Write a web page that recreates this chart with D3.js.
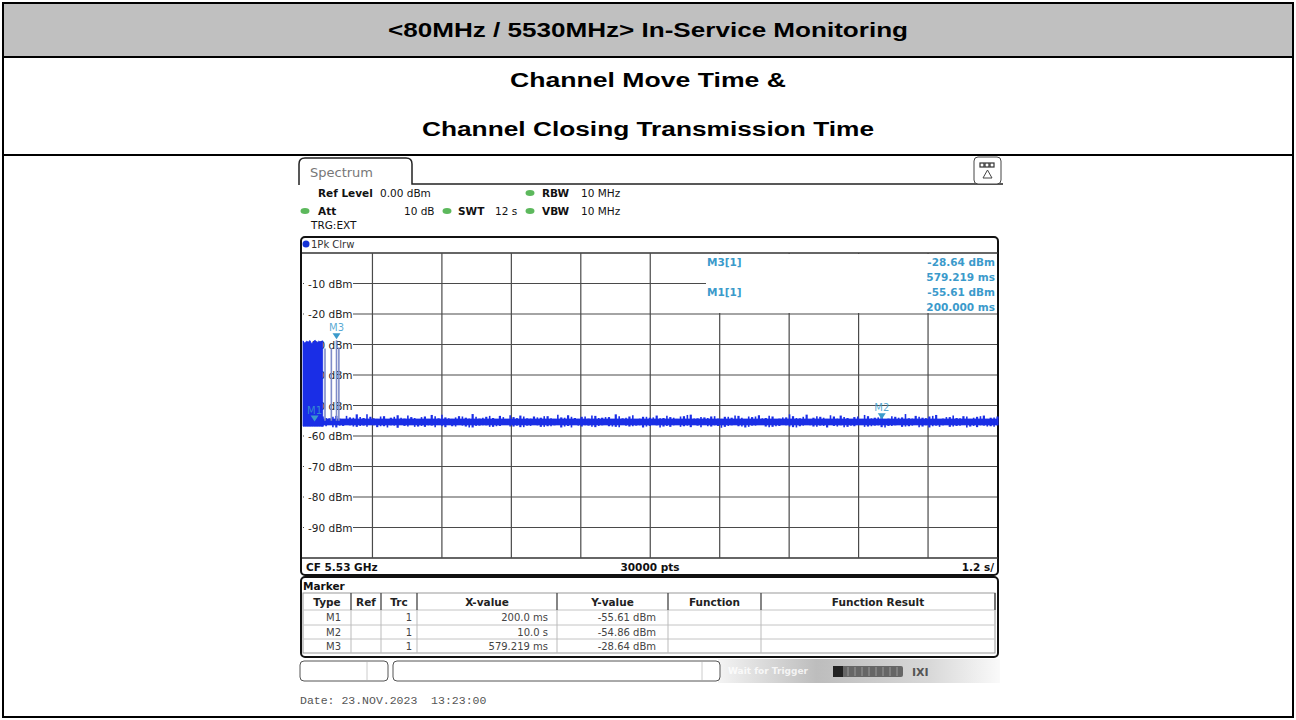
<!DOCTYPE html>
<html>
<head>
<meta charset="utf-8">
<title>In-Service Monitoring</title>
<script src="https://cdn.jsdelivr.net/npm/d3@7"></script>
<style>
  body { margin: 0; background: #fff; }
  svg { display: block; }
</style>
</head>
<body>
<svg width="1296" height="720"></svg>
<script>
// ---- data ----
var titleText = "<80MHz / 5530MHz> In-Service Monitoring";
var subTitles = ["Channel Move Time &", "Channel Closing Transmission Time"];

var yTicks = [-10, -20, -30, -40, -50, -60, -70, -80, -90];
var xDivs = [1.2, 2.4, 3.6, 4.8, 6.0, 7.2, 8.4, 9.6, 10.8];

// signal before the channel move (0 .. 0.34 s), peak level per slice
var blockTimes = [0, 0.03, 0.06, 0.09, 0.12, 0.15, 0.18, 0.21, 0.24, 0.27, 0.30, 0.34];
var blockTop = [-28.8, -29.6, -28.9, -29.2, -28.7, -29.8, -29.0, -28.6, -29.4, -28.9, -29.1, -28.8];

// short transmissions after the move
var spikeTimes = [0.38, 0.49, 0.579, 0.62];
var spikeLevels = [-31.3, -31.2, -28.64, -31.0];

// noise floor: solid core and the peaks / dips around it (0.34 s .. 12 s)
var noiseCore = [-54.3, -56.5];
var noiseTop = [
  -53.6,-54.2,-53.4,-54.5,-53.9,-52.9,-54.1,-53.7,-54.4,-53.5,
  -54.0,-53.2,-54.3,-53.8,-54.6,-53.6,-53.1,-54.2,-53.9,-54.4,
  -53.5,-54.0,-52.8,-54.3,-53.7,-54.1,-53.4,-54.5,-53.8,-53.3,
  -54.2,-53.6,-54.0,-53.5,-54.4,-53.9,-53.2,-54.1,-53.7,-54.3,
  -53.4,-54.0,-53.8,-52.9,-54.2,-53.6,-54.5,-53.7,-54.0,-53.3,
  -54.1,-53.8,-54.4,-53.5,-53.0,-54.2,-53.9,-53.6,-54.3,-53.7,
  -54.0,-53.4,-54.5,-53.8,-53.2,-54.1,-53.6,-54.3,-53.9,-53.5,
  -54.2,-53.0,-54.0,-53.7,-54.4,-53.6,-53.3,-54.1,-53.8,-54.5,
  -53.5,-54.0,-53.2,-54.3,-53.7,-53.9,-54.2,-53.4,-54.0,-53.6,
  -53.1,-54.3,-53.8,-54.1,-53.5,-54.4,-53.7,-53.3,-54.0,-53.6
];
var noiseBottom = [
  -56.9,-56.4,-57.2,-56.7,-56.5,-57.0,-56.6,-56.3,-57.1,-56.8,
  -56.5,-57.3,-56.7,-56.4,-56.9,-57.0,-56.6,-56.2,-57.1,-56.8,
  -56.4,-56.9,-57.2,-56.6,-56.5,-57.0,-56.7,-56.3,-56.9,-57.1,
  -56.6,-56.4,-57.0,-56.8,-56.5,-57.2,-56.7,-56.4,-56.9,-56.6,
  -57.1,-56.5,-56.8,-57.0,-56.3,-56.9,-56.6,-57.2,-56.7,-56.5,
  -56.9,-57.0,-56.4,-56.8,-57.1,-56.6,-56.3,-56.9,-56.7,-57.0,
  -56.5,-56.8,-57.2,-56.6,-56.4,-56.9,-57.0,-56.7,-56.5,-57.1,
  -56.8,-56.4,-56.9,-56.6,-57.2,-56.7,-56.5,-57.0,-56.8,-56.3,
  -56.9,-56.6,-57.1,-56.7,-56.5,-57.0,-56.8,-56.4,-56.9,-57.2,
  -56.6,-56.5,-57.0,-56.7,-56.4,-56.9,-57.1,-56.6,-56.8,-56.5
];

// markers
var markerNames = ["M1", "M2", "M3"];
var markerTimes = [0.2, 10.0, 0.579219];
var markerLevels = [-55.61, -54.86, -28.64];
var markerXText = ["200.0 ms", "10.0 s", "579.219 ms"];
var markerYText = ["-55.61 dBm", "-54.86 dBm", "-28.64 dBm"];

var tableHeads = ["Type", "Ref", "Trc", "X-value", "Y-value", "Function", "Function Result"];
var tableCols = [303, 351, 381, 417, 557, 668, 761, 995];

var svg = d3.select("svg");
var sans = "'DejaVu Sans', Verdana, sans-serif";
var arial = "'Liberation Sans', Arial, sans-serif";
var blue = "#1a2ee6";
var mkColor = "#3b9acb";

// ---- outer report table ----
svg.append("rect").attr("x", 3).attr("y", 3).attr("width", 1290).attr("height", 54)
  .attr("fill", "#c0c0c0");
svg.append("rect").attr("x", 3).attr("y", 3).attr("width", 1290).attr("height", 714)
  .attr("fill", "none").attr("stroke", "#000").attr("stroke-width", 2);
[57, 155].forEach(function(y){
  svg.append("line").attr("x1", 3).attr("x2", 1293).attr("y1", y).attr("y2", y)
    .attr("stroke", "#000").attr("stroke-width", 2);
});
// the screenshot is stretched sideways, so the headings are wider than the font
svg.append("text").attr("x", 648).attr("y", 37).attr("text-anchor", "middle")
  .attr("font-family", arial).attr("font-weight", "bold").attr("font-size", 20)
  .attr("textLength", 520).attr("lengthAdjust", "spacingAndGlyphs")
  .text(titleText);
var subW = [276, 452];
svg.selectAll(".sub").data(subTitles).enter().append("text")
  .attr("x", 648).attr("y", function(d, i){ return 87 + i * 49; })
  .attr("text-anchor", "middle").attr("font-family", arial)
  .attr("font-weight", "bold").attr("font-size", 20)
  .attr("textLength", function(d, i){ return subW[i]; }).attr("lengthAdjust", "spacingAndGlyphs")
  .text(function(d){ return d; });

// ---- analyzer screen ----
var scr = svg.append("g").attr("font-family", sans);

scr.append("path")
  .attr("d", "M299,185 V164 Q299,158 305,158 H406 Q412,158 412,164 V184 H1003")
  .attr("fill", "none").attr("stroke", "#222").attr("stroke-width", 1.5);
scr.append("text").attr("x", 310).attr("y", 177).attr("font-size", 13)
  .attr("fill", "#777").text("Spectrum");

// small icon top right
scr.append("rect").attr("x", 974).attr("y", 157).attr("width", 27).attr("height", 27)
  .attr("rx", 4).attr("fill", "#fff").attr("stroke", "#444").attr("stroke-width", 1);
[980, 985, 990].forEach(function(bx){
  scr.append("rect").attr("x", bx).attr("y", 163).attr("width", 4).attr("height", 4)
    .attr("fill", "none").attr("stroke", "#333").attr("stroke-width", 1.2);
});
scr.append("path").attr("d", "M987.5,170 L983,178 H992 Z").attr("fill", "none")
  .attr("stroke", "#444");

// setting lines
function setText(x, y, t, bold){
  scr.append("text").attr("x", x).attr("y", y).attr("font-size", 10.5)
    .attr("font-weight", bold ? "bold" : "normal").attr("fill", "#111").text(t);
}
function dot(x, y){
  scr.append("ellipse").attr("cx", x).attr("cy", y).attr("rx", 4.5).attr("ry", 3)
    .attr("fill", "#5cb85c");
}
setText(318, 197, "Ref Level", true); setText(380, 197, "0.00 dBm");
dot(530, 193); setText(542, 197, "RBW", true); setText(581, 197, "10 MHz");
dot(305, 211); setText(318, 215, "Att", true); setText(404, 215, "10 dB");
dot(447, 211); setText(458, 215, "SWT", true); setText(495, 215, "12 s");
dot(530, 211); setText(542, 215, "VBW", true); setText(581, 215, "10 MHz");
setText(311, 229, "TRG:EXT");

// plot frame
scr.append("rect").attr("x", 301).attr("y", 237).attr("width", 697).attr("height", 338)
  .attr("rx", 4).attr("fill", "#fff").attr("stroke", "#111").attr("stroke-width", 2);
scr.append("circle").attr("cx", 306).attr("cy", 244).attr("r", 3.5).attr("fill", "#1533d6");
scr.append("text").attr("x", 311).attr("y", 248).attr("font-size", 10).attr("fill", "#333")
  .text("1Pk Clrw");

var x = d3.scaleLinear().domain([0, 12]).range([303, 997.5]);
var y = d3.scaleLinear().domain([0, -100]).range([253, 558]);

var grid = scr.append("g");
grid.append("line").attr("x1", 302).attr("x2", 998).attr("y1", y(0)).attr("y2", y(0))
  .attr("stroke", "#333").attr("stroke-width", 1.5);
grid.append("line").attr("x1", 302).attr("x2", 998).attr("y1", y(-100)).attr("y2", y(-100))
  .attr("stroke", "#333").attr("stroke-width", 1.5);
grid.selectAll(".v").data(xDivs).enter().append("line")
  .attr("x1", function(d){ return x(d); }).attr("x2", function(d){ return x(d); })
  .attr("y1", y(0)).attr("y2", y(-100)).attr("stroke", "#4a4a4a").attr("stroke-width", 1.2);
grid.selectAll(".h").data(yTicks).enter().append("line")
  .attr("x1", 303).attr("x2", 997)
  .attr("y1", function(d){ return y(d); }).attr("y2", function(d){ return y(d); })
  .attr("stroke", "#4a4a4a").attr("stroke-width", 1.2);

// marker info box hides part of the grid
scr.append("rect").attr("x", 652).attr("y", y(0) + 1).attr("width", 345)
  .attr("height", y(-20) - y(0) - 2).attr("fill", "#fff");
scr.append("line").attr("x1", 652).attr("x2", 706).attr("y1", y(-10)).attr("y2", y(-10))
  .attr("stroke", "#4a4a4a").attr("stroke-width", 1.2);

// y labels with white background
var yl = scr.selectAll(".yl").data(yTicks).enter().append("g");
yl.append("rect").attr("x", 304).attr("y", function(d){ return y(d) - 7; })
  .attr("width", 49).attr("height", 14).attr("fill", "#fff");
yl.append("text").attr("x", 308).attr("y", function(d){ return y(d) + 4; })
  .attr("font-size", 10.5).attr("fill", "#222").text(function(d){ return d + " dBm"; });

// ---- trace ----
var step = (12 - 0.34) / (noiseTop.length - 1);
var noiseTimes = d3.range(noiseTop.length).map(function(i){ return 0.34 + i * step; });
var blockData = blockTimes.map(function(t, i){ return { t: t, hi: blockTop[i], lo: -56.8 }; });

var area = d3.area().x(function(d){ return x(d.t); })
  .y0(function(d){ return y(d.lo); }).y1(function(d){ return y(d.hi); });

scr.append("rect").attr("x", x(0.3)).attr("y", y(noiseCore[0]))
  .attr("width", x(12) - x(0.3)).attr("height", y(noiseCore[1]) - y(noiseCore[0]))
  .attr("fill", blue);
// peak / dip hairs of the noise floor
scr.selectAll(".hair").data(noiseTimes).enter().append("line")
  .attr("x1", function(d){ return x(d); }).attr("x2", function(d){ return x(d); })
  .attr("y1", function(d, i){ return y(noiseTop[i]); })
  .attr("y2", function(d, i){ return y(noiseBottom[i]); })
  .attr("stroke", blue).attr("stroke-width", 2.2);
scr.selectAll(".hair2").data(noiseTimes.slice(0, -1)).enter().append("line")
  .attr("x1", function(d){ return x(d + step / 2); }).attr("x2", function(d){ return x(d + step / 2); })
  .attr("y1", function(d, i){ return y(noiseTop[(i + 37) % noiseTop.length]); })
  .attr("y2", function(d, i){ return y(noiseBottom[(i + 53) % noiseBottom.length]); })
  .attr("stroke", blue).attr("stroke-width", 1.6);
scr.append("path").datum(blockData).attr("d", area).attr("fill", blue)
  .attr("stroke", blue).attr("stroke-width", 0.8);

scr.selectAll(".spike").data(spikeTimes).enter().append("line")
  .attr("x1", function(d){ return x(d); }).attr("x2", function(d){ return x(d); })
  .attr("y1", y(-55)).attr("y2", function(d, i){ return y(spikeLevels[i]); })
  .attr("stroke", "#7f8cc8").attr("stroke-width", 1.6);

// markers on trace
var mk = scr.selectAll(".mk").data(markerNames).enter().append("g");
mk.append("path").attr("d", function(d, i){
  var mx = x(markerTimes[i]), my = y(markerLevels[i]) - 1;
  return "M" + (mx - 4) + "," + (my - 6) + " H" + (mx + 4) + " L" + mx + "," + my + " Z";
}).attr("fill", mkColor);
mk.append("text").attr("x", function(d, i){ return x(markerTimes[i]); })
  .attr("y", function(d, i){ return y(markerLevels[i]) - 9; })
  .attr("text-anchor", "middle").attr("font-size", 10).attr("fill", mkColor)
  .attr("fill-opacity", 0.85).text(function(d){ return d; });

// marker readout
var ro = scr.append("g").attr("font-size", 10.5).attr("font-weight", "bold").attr("fill", mkColor);
ro.append("text").attr("x", 707).attr("y", 266).text("M3[1]");
ro.append("text").attr("x", 707).attr("y", 296).text("M1[1]");
ro.append("text").attr("x", 995).attr("y", 266).attr("text-anchor", "end").text(markerYText[2]);
ro.append("text").attr("x", 995).attr("y", 281).attr("text-anchor", "end").text("579.219 ms");
ro.append("text").attr("x", 995).attr("y", 296).attr("text-anchor", "end").text(markerYText[0]);
ro.append("text").attr("x", 995).attr("y", 311).attr("text-anchor", "end").text("200.000 ms");

// footer of plot
scr.append("text").attr("x", 306).attr("y", 571).attr("font-size", 10.5).attr("font-weight", "bold")
  .attr("fill", "#111").text("CF 5.53 GHz");
scr.append("text").attr("x", 650).attr("y", 571).attr("text-anchor", "middle").attr("font-size", 10.5)
  .attr("font-weight", "bold").attr("fill", "#111").text("30000 pts");
scr.append("text").attr("x", 994).attr("y", 571).attr("text-anchor", "end").attr("font-size", 10.5)
  .attr("font-weight", "bold").attr("fill", "#111").text("1.2 s/");

// ---- marker table ----
scr.append("rect").attr("x", 301).attr("y", 577).attr("width", 697).attr("height", 80)
  .attr("rx", 4).attr("fill", "#fff").attr("stroke", "#111").attr("stroke-width", 2);
scr.append("text").attr("x", 303).attr("y", 590).attr("font-size", 10.5).attr("font-weight", "bold")
  .attr("fill", "#111").text("Marker");

var rowY = [593, 610, 625, 639, 653];
scr.append("rect").attr("x", 303).attr("y", 593).attr("width", 692).attr("height", 60)
  .attr("fill", "none").attr("stroke", "#999");
rowY.slice(1, 4).forEach(function(yy){
  scr.append("line").attr("x1", 303).attr("x2", 995).attr("y1", yy).attr("y2", yy)
    .attr("stroke", "#c4c4c4");
});
tableCols.slice(1, 7).forEach(function(cx){
  scr.append("line").attr("x1", cx).attr("x2", cx).attr("y1", 593).attr("y2", 610)
    .attr("stroke", "#444").attr("stroke-width", 1.3);
  scr.append("line").attr("x1", cx).attr("x2", cx).attr("y1", 610).attr("y2", 653)
    .attr("stroke", "#bbb");
});
scr.append("line").attr("x1", 995).attr("x2", 995).attr("y1", 593).attr("y2", 610)
  .attr("stroke", "#444").attr("stroke-width", 1.3);
scr.selectAll(".th").data(tableHeads).enter().append("text")
  .attr("x", function(d, i){ return (tableCols[i] + tableCols[i + 1]) / 2; })
  .attr("y", 606).attr("text-anchor", "middle").attr("font-size", 10.5)
  .attr("font-weight", "bold").attr("fill", "#222").text(function(d){ return d; });

var rows = scr.selectAll(".tr").data(markerNames).enter().append("g")
  .attr("font-size", 10).attr("fill", "#444").attr("text-anchor", "end");
rows.append("text").attr("x", 341).attr("y", function(d, i){ return rowY[i + 1] + 11; })
  .text(function(d){ return d; });
rows.append("text").attr("x", 412).attr("y", function(d, i){ return rowY[i + 1] + 11; })
  .text("1");
rows.append("text").attr("x", 548).attr("y", function(d, i){ return rowY[i + 1] + 11; })
  .text(function(d, i){ return markerXText[i]; });
rows.append("text").attr("x", 656).attr("y", function(d, i){ return rowY[i + 1] + 11; })
  .text(function(d, i){ return markerYText[i]; });

// ---- status bar ----
var grad = svg.append("defs").append("linearGradient").attr("id", "sb");
grad.append("stop").attr("offset", "0%").attr("stop-color", "#f4f4f4");
grad.append("stop").attr("offset", "35%").attr("stop-color", "#bdbdbd");
grad.append("stop").attr("offset", "75%").attr("stop-color", "#d8d8d8");
grad.append("stop").attr("offset", "100%").attr("stop-color", "#fafafa");
scr.append("rect").attr("x", 718).attr("y", 659).attr("width", 282).attr("height", 24)
  .attr("fill", "url(#sb)");
scr.append("rect").attr("x", 300).attr("y", 661).attr("width", 88).attr("height", 20)
  .attr("rx", 4).attr("fill", "#fff").attr("stroke", "#555");
scr.append("line").attr("x1", 367).attr("x2", 367).attr("y1", 662).attr("y2", 680).attr("stroke", "#ccc");
scr.append("rect").attr("x", 393).attr("y", 661).attr("width", 327).attr("height", 20)
  .attr("rx", 4).attr("fill", "#fff").attr("stroke", "#555");
scr.append("line").attr("x1", 702).attr("x2", 702).attr("y1", 662).attr("y2", 680).attr("stroke", "#ccc");
scr.append("text").attr("x", 728).attr("y", 674).attr("font-size", 9).attr("font-weight", "bold")
  .attr("fill", "#fff").attr("fill-opacity", 0.8).text("Wait for Trigger");
scr.append("rect").attr("x", 833).attr("y", 666).attr("width", 70).attr("height", 11)
  .attr("rx", 2).attr("fill", "#666");
scr.append("rect").attr("x", 833).attr("y", 666).attr("width", 10).attr("height", 11)
  .attr("fill", "#222");
d3.range(848, 900, 7).forEach(function(bx){
  scr.append("line").attr("x1", bx).attr("x2", bx).attr("y1", 667).attr("y2", 676)
    .attr("stroke", "#999");
});
scr.append("text").attr("x", 912).attr("y", 676).attr("font-size", 11).attr("font-weight", "bold")
  .attr("fill", "#555").text("IXI");

svg.append("text").attr("x", 300).attr("y", 704)
  .attr("font-family", "'Liberation Mono', 'DejaVu Sans Mono', monospace")
  .attr("font-size", 11.5).attr("fill", "#555").attr("xml:space", "preserve")
  .text("Date: 23.NOV.2023  13:23:00");
</script>
</body>
</html>
